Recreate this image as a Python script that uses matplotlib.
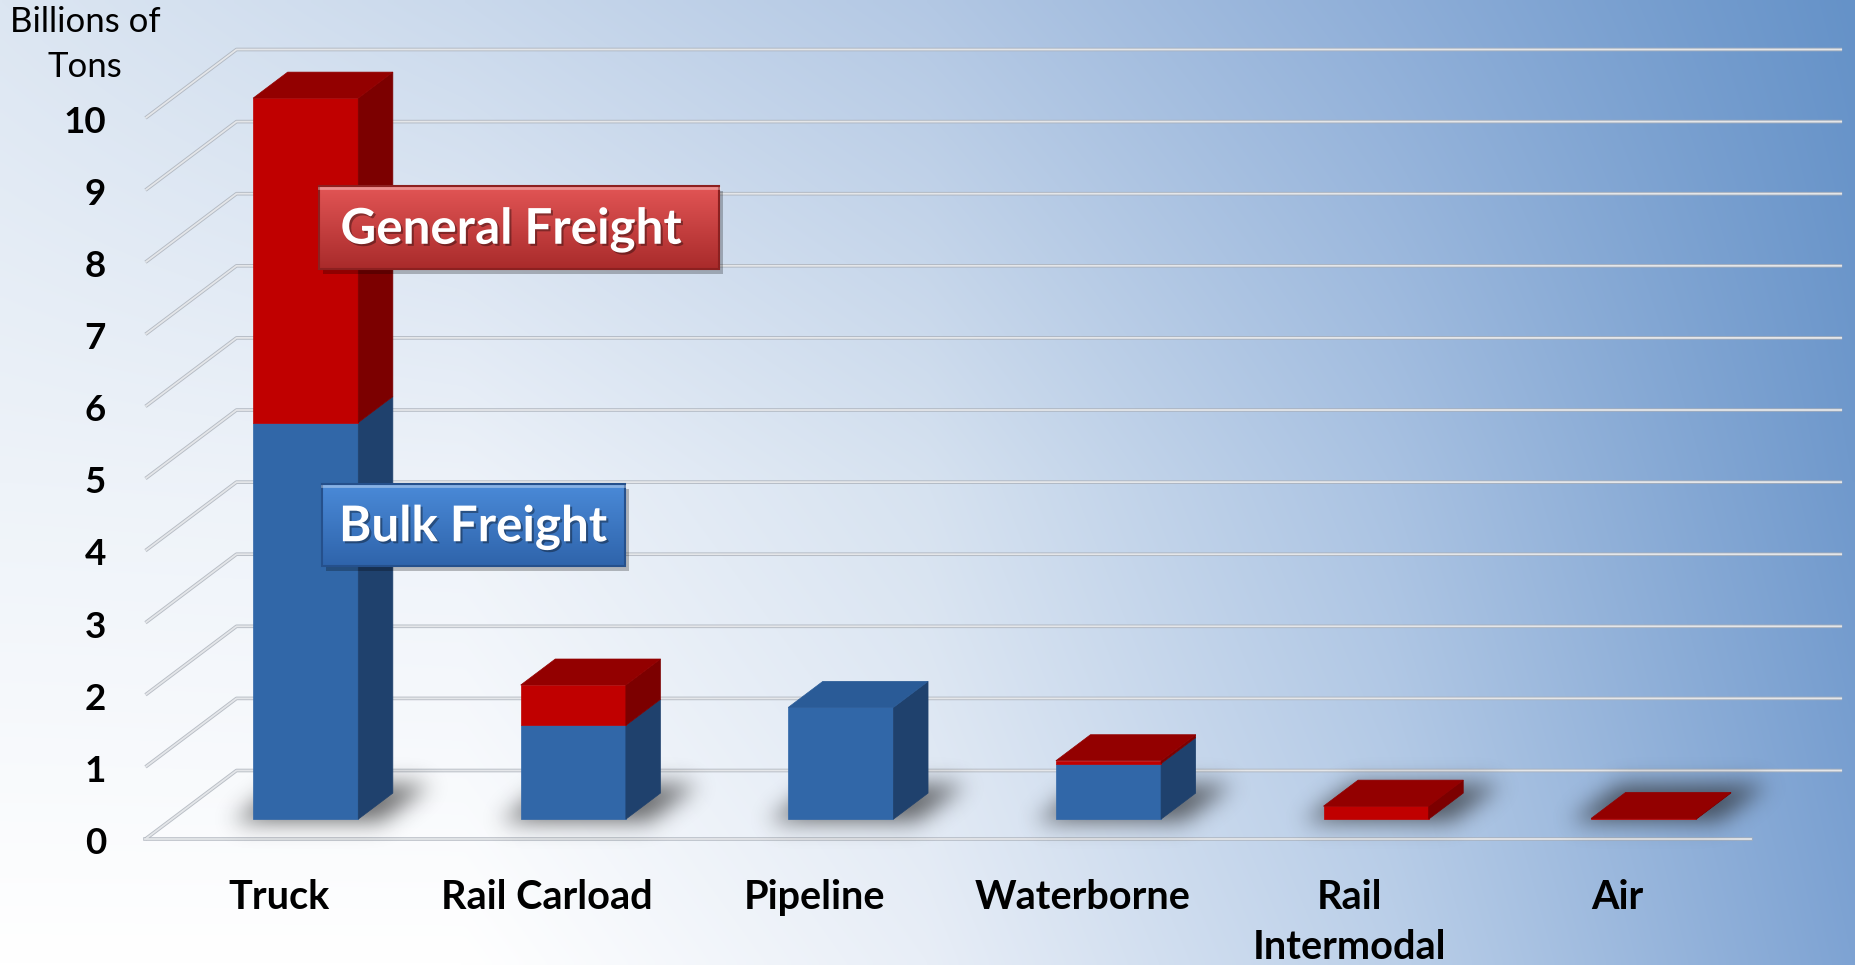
import numpy as np
import matplotlib.pyplot as plt
from matplotlib.patches import Polygon, Rectangle
from matplotlib.path import Path
import matplotlib.patheffects as pe

# data (billions of tons)
categories = ['Truck', 'Rail Carload', 'Pipeline', 'Waterborne', 'Rail\nIntermodal', 'Air']
bulk = [5.5, 1.3, 1.55, 0.77, 0.0, 0.0]
general = [4.5, 0.56, 0.0, 0.04, 0.18, 0.01]
yticks = list(range(0, 11))
ylabel = 'Billions of\nTons'
legend_labels = ['General Freight', 'Bulk Freight']

# layout (pixels of the 1855x965 output)
W, H = 1855, 965
X0, Y0 = 145.5, 839      # front-left corner of the floor
SX, SY = 267.6, 72.1     # pixels per category / per unit
DX, DY = 0.34, 0.95      # depth offset of the back wall in data units
Z0, Z1 = 0.29, 0.67      # depth range the bars occupy
BW = 0.393               # bar width in categories

FONT = 'Lato'

fig = plt.figure(figsize=(W / 100, H / 100), dpi=100)
ax = fig.add_axes([0, 0, 1, 1])
xlim = (-X0 / SX, (W - X0) / SX)
ylim = (-(H - Y0) / SY, Y0 / SY)
ax.set_xlim(*xlim)
ax.set_ylim(*ylim)
ax.axis('off')


def px(xp, yp):
    return (xp - X0) / SX, (Y0 - yp) / SY


def hexrgb(h):
    h = h.lstrip('#')
    return [int(h[i:i + 2], 16) / 255 for i in (0, 2, 4)]


# background gradient, white lower-left to steel blue upper-right
gx = [0, 0.25, 0.5, 0.75, 1.0]
row_top = ['#dce6f2', '#cad9ec', '#b3c8e4', '#8eaed8', '#6592c8']
row_mid = ['#eef3f9', '#edf2f9', '#d6e2f0', '#a9c2e2', '#7099cc']
row_bot = ['#ffffff', '#ffffff', '#e8eef7', '#bcd0e9', '#7ea3d3']
nx, ny = 400, 200
xs = np.linspace(0, 1, nx)
ys = np.linspace(0, 1, ny)
rows = []
for r in (row_top, row_mid, row_bot):
    cols = np.array([hexrgb(c) for c in r])
    rows.append(np.stack([np.interp(xs, gx, cols[:, k]) for k in range(3)], axis=-1))
rows = np.array(rows)
img = np.empty((ny, nx, 3))
for k in range(3):
    for j in range(nx):
        img[:, j, k] = np.interp(ys, [0, 0.5, 1], rows[:, j, k])
ax.imshow(img, extent=(xlim[0], xlim[1], ylim[0], ylim[1]), origin='upper',
          aspect='auto', interpolation='bilinear', zorder=0)

# gridlines: diagonal on the left wall then along the back wall
n = len(categories)
for v in yticks:
    xs_ = [0, DX, n + DX]
    ys_ = [v, v + DY, v + DY]
    ax.plot(xs_, ys_, color='#a9afb8', lw=2.6, alpha=0.8, zorder=1, solid_capstyle='butt')
    ax.plot(xs_, ys_, color='#e4e6e9', lw=1.3, zorder=1.1, solid_capstyle='butt')
ax.plot([0, n], [0, 0], color='#a9afb8', lw=2.6, alpha=0.8, zorder=1)
ax.plot([0, n], [0, 0], color='#e4e6e9', lw=1.3, zorder=1.1)

# soft shadow kernel (pixels)
sig = 11
kx = np.arange(-3 * sig, 3 * sig + 1)
kern = np.exp(-0.5 * (kx / sig) ** 2)
kern /= kern.sum()


def floor_shadow(c):
    xl, xr = c - BW / 2, c + BW / 2
    fx0 = xl - Z0 * DX  # front-plane x of the footprint
    fx1 = xr - Z0 * DX
    za, zb = Z0 - 0.04, Z1 + 0.12
    xa, xb = fx0 - 0.06, fx1 + 0.10
    foot = Path([(xa + za * DX, za * DY), (xb + za * DX, za * DY),
                 (xb + zb * DX, zb * DY), (xa + zb * DX, zb * DY)])
    gx0, gx1 = xa - 0.3, xb + DX + 0.3
    gy0, gy1 = -0.6, DY + 0.6
    nxs = int((gx1 - gx0) * SX)
    nys = int((gy1 - gy0) * SY)
    Xg, Yg = np.meshgrid(np.linspace(gx0, gx1, nxs), np.linspace(gy1, gy0, nys))
    mask = foot.contains_points(np.c_[Xg.ravel(), Yg.ravel()]).reshape(nys, nxs).astype(float)
    mask = np.apply_along_axis(lambda r: np.convolve(r, kern, mode='same'), 1, mask)
    mask = np.apply_along_axis(lambda r: np.convolve(r, kern, mode='same'), 0, mask)
    rgba = np.zeros((nys, nxs, 4))
    rgba[..., :3] = 0.12
    rgba[..., 3] = np.clip(mask, 0, 1) * 0.65
    ax.imshow(rgba, extent=(gx0, gx1, gy0, gy1), origin='upper', aspect='auto',
              interpolation='bilinear', zorder=2)


def draw_box(c, y0, y1, front, side, top, draw_top):
    xl, xr = c - BW / 2, c + BW / 2
    d = Z1 - Z0
    fy0, fy1 = y0 + Z0 * DY, y1 + Z0 * DY
    ax.add_patch(Polygon([(xl, fy0), (xr, fy0), (xr, fy1), (xl, fy1)],
                         fc=front, ec=front, lw=0.5, zorder=5))
    ax.add_patch(Polygon([(xr, fy0), (xr + d * DX, fy0 + d * DY),
                          (xr + d * DX, fy1 + d * DY), (xr, fy1)],
                         fc=side, ec=side, lw=0.5, zorder=5))
    if draw_top:
        ax.add_patch(Polygon([(xl, fy1), (xr, fy1), (xr + d * DX, fy1 + d * DY),
                              (xl + d * DX, fy1 + d * DY)],
                             fc=top, ec=top, lw=0.5, zorder=5))


blue = ('#3167a8', '#1f416d', '#2a5b97')
red = ('#c00000', '#7c0000', '#930000')

for i, (b, g) in enumerate(zip(bulk, general)):
    c = i + 0.5 + Z0 * DX
    floor_shadow(c)
    if b > 0:
        draw_box(c, 0, b, *blue, draw_top=(g == 0))
    if g > 0:
        draw_box(c, b, b + g, *red, draw_top=True)

# tick labels
for v in yticks:
    ax.text(-0.148, v - 0.06, str(v), ha='right', va='center', fontsize=26.5,
            fontweight='bold', family=FONT, color='black', zorder=6)

# category labels
for i, cat in enumerate(categories):
    ax.text(i + 0.5, -0.55, cat, ha='center', va='top', fontsize=28.5,
            fontweight='bold', family=FONT, linespacing=1.45, zorder=6)

# axis title
tx, ty = px(85, 6)
ax.text(tx, ty, ylabel, ha='center', va='top', fontsize=25, family=FONT,
        linespacing=1.5, zorder=6)


def label_box(x0p, y0p, x1p, y1p, ctop, cbot, edge, text, txp):
    xa, ya = px(x0p, y1p)
    xb, yb = px(x1p, y0p)
    sx, sy = 4 / SX, 5 / SY
    ax.add_patch(Rectangle((xa + sx, ya - sy), xb - xa, yb - ya, fc='black',
                           ec='none', alpha=0.25, zorder=7))
    ct, cb = np.array(hexrgb(ctop)), np.array(hexrgb(cbot))
    t = np.linspace(0, 1, 60)[:, None]
    grad = (ct * (1 - t) + cb * t)[:, None, :]
    ax.imshow(grad, extent=(xa, xb, ya, yb), origin='upper', aspect='auto',
              interpolation='bilinear', zorder=8)
    ax.add_patch(Rectangle((xa, ya), xb - xa, yb - ya, fc='none', ec=edge,
                           lw=1.5, zorder=9))
    ax.plot([xa, xb], [yb - 2 / SY, yb - 2 / SY], color='white', alpha=0.35,
            lw=2, zorder=9)
    cx, cy = px(txp, (y0p + y1p) / 2 + 2)
    ax.text(cx, cy, text, ha='center', va='center', fontsize=35.5,
            fontweight='bold', family=FONT, color='white', zorder=10,
            path_effects=[pe.withSimplePatchShadow(offset=(1.5, -1.5),
                                                    shadow_rgbFace='black', alpha=0.35)])


label_box(319, 186, 719, 269, '#e25555', '#a92b2b', '#8c2020', legend_labels[0], 511)
label_box(322, 484, 625, 566, '#4a8ad8', '#2f64ab', '#25508c', legend_labels[1], 473)

ax.set_xlim(*xlim)
ax.set_ylim(*ylim)
fig.savefig('out.png', dpi=100)
